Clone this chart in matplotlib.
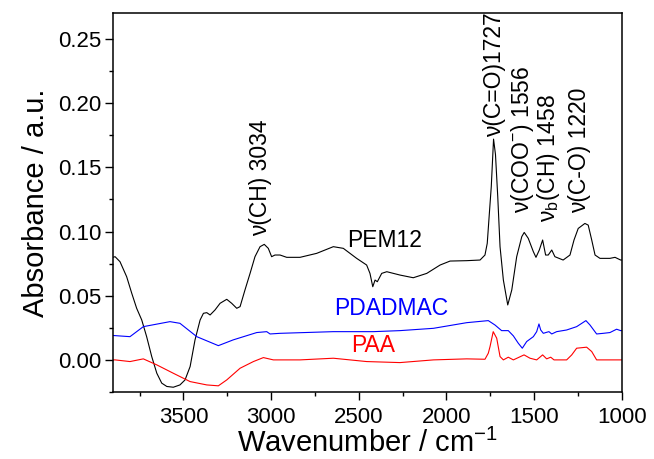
import numpy as np
import matplotlib
matplotlib.use("Agg")
import matplotlib.pyplot as plt
from matplotlib.ticker import MultipleLocator, FormatStrFormatter

plt.rcParams['font.family'] = ['Liberation Sans', 'DejaVu Sans']
plt.rcParams['mathtext.fontset'] = 'custom'
plt.rcParams['mathtext.rm'] = 'Liberation Sans'
plt.rcParams['mathtext.it'] = 'Liberation Sans:italic'

# spectra (wavenumber in cm-1, absorbance)
pem12_wn = [3900, 3890, 3862, 3824, 3795, 3767, 3738, 3710, 3681, 3652, 3624, 3595,
            3558, 3520, 3491, 3462, 3434, 3405, 3386, 3367, 3348, 3320, 3291, 3253,
            3225, 3196, 3177, 3149, 3120, 3092, 3063, 3039, 3016, 2997, 2978, 2949,
            2911, 2835, 2740, 2645, 2588, 2512, 2455, 2436, 2420, 2407, 2394, 2369,
            2340, 2265, 2189, 2112, 2036, 1979, 1884, 1808, 1780, 1767, 1755, 1744,
            1731, 1720, 1707, 1694, 1675, 1650, 1627, 1599, 1570, 1556, 1533, 1504,
            1489, 1470, 1451, 1434, 1419, 1399, 1381, 1334, 1295, 1272, 1248, 1210,
            1191, 1171, 1152, 1124, 1067, 1038, 1006, 1000]
pem12_abs = [0.080, 0.0804, 0.0765, 0.0648, 0.0519, 0.0402, 0.0311, 0.0181, 0.0026, -0.0104,
             -0.0181, -0.0207, -0.0213, -0.0195, -0.0156, -0.0052, 0.0156, 0.0311, 0.0363, 0.0368,
             0.035, 0.0389, 0.0441, 0.0472, 0.0441, 0.0402, 0.0415, 0.0545, 0.0674, 0.0804,
             0.0882, 0.090, 0.0869, 0.0804, 0.0817, 0.0817, 0.0799, 0.0799, 0.083, 0.0882,
             0.0869, 0.0791, 0.0739, 0.0674, 0.057, 0.0622, 0.0609, 0.0674, 0.0687, 0.0661,
             0.064, 0.0674, 0.0739, 0.077, 0.0773, 0.0778, 0.0817, 0.0908, 0.114, 0.135,
             0.172, 0.160, 0.127, 0.0882, 0.0622, 0.0428, 0.0545, 0.0804, 0.096, 0.0993,
             0.0947, 0.0843, 0.0799, 0.0856, 0.0934, 0.0817, 0.0817, 0.0856, 0.0804, 0.0778,
             0.0817, 0.0934, 0.1024, 0.1063, 0.105, 0.0934, 0.0817, 0.0791, 0.0791, 0.0799,
             0.0778, 0.0778]

pdadmac_wn = [3900, 3890, 3805, 3729, 3577, 3520, 3424, 3301, 3216, 3082, 3025, 3006,
              2949, 2645, 2417, 2265, 2074, 1884, 1761, 1723, 1685, 1647, 1618, 1590,
              1567, 1542, 1504, 1485, 1472, 1462, 1447, 1428, 1415, 1399, 1371, 1314,
              1257, 1204, 1181, 1143, 1105, 1067, 1029, 1006, 1000]
pdadmac_abs = [0.019, 0.0189, 0.0181, 0.0259, 0.0298, 0.0285, 0.0181, 0.0111, 0.0156, 0.0213,
               0.022, 0.0202, 0.0207, 0.022, 0.022, 0.0228, 0.0246, 0.029, 0.0306, 0.0272,
               0.0228, 0.0228, 0.0187, 0.013, 0.0091, 0.0143, 0.0181, 0.022, 0.028, 0.0233,
               0.0207, 0.0215, 0.022, 0.0202, 0.022, 0.0233, 0.0259, 0.0306, 0.0272, 0.0202,
               0.0207, 0.0213, 0.0239, 0.0228, 0.0228]

paa_wn = [3900, 3890, 3805, 3729, 3652, 3558, 3462, 3367, 3301, 3253, 3177, 3101,
          3044, 2987, 2835, 2645, 2455, 2265, 2074, 1884, 1780, 1761, 1751, 1733,
          1713, 1694, 1675, 1647, 1618, 1557, 1523, 1485, 1451, 1428, 1405, 1386,
          1314, 1285, 1257, 1200, 1171, 1143, 1086, 1006, 1000]
paa_abs = [0.0, 0.0, -0.0013, 0.0008, -0.0039, -0.0104, -0.0169, -0.0195, -0.0202, -0.0156,
           -0.0065, -0.0013, 0.0018, 0.0, 0.0, 0.0013, -0.0013, -0.0021, 0.0, 0.0008,
           0.0005, 0.0052, 0.0104, 0.022, 0.0169, 0.0026, 0.0, 0.0021, 0.0, 0.0039,
           0.0013, 0.0, 0.0039, 0.0008, 0.0021, 0.0, 0.0, 0.0039, 0.0091, 0.0099,
           0.0065, 0.0, 0.0, 0.0, 0.0]

# band assignments
band_labels = [r'ν(CH) 3034', r'ν(C=O)1727', r'ν(COO$^{-}$) 1556',
               r'ν$_{\mathrm{b}}$(CH) 1458', r'ν(C-O) 1220']
band_x = [3060, 1728, 1566, 1420, 1238]
band_y = [0.0965, 0.1735, 0.1143, 0.1076, 0.1143]

fig = plt.figure(figsize=(6.54, 4.59), dpi=100)
ax = fig.add_axes([0.1733, 0.146, 0.7773, 0.825])

ax.plot(pem12_wn, pem12_abs, color='black', lw=0.8)
ax.plot(pdadmac_wn, pdadmac_abs, color='#0000ff', lw=0.8)
ax.plot(paa_wn, paa_abs, color='#ff0000', lw=0.8)

ax.text(2353, 0.0882, 'PEM12', color='black', fontsize=16.5, ha='center', va='baseline')
ax.text(2317, 0.035, 'PDADMAC', color='#0000ff', fontsize=16.5, ha='center', va='baseline')
ax.text(2420, 0.0065, 'PAA', color='#ff0000', fontsize=16.5, ha='center', va='baseline')

for lab, x, y in zip(band_labels, band_x, band_y):
    ax.text(x, y, lab, rotation=90, fontsize=16.5, ha='center', va='bottom')

ax.set_xlim(3900, 1000)
ax.set_ylim(-0.025, 0.27)
ax.xaxis.set_major_locator(MultipleLocator(500))
ax.xaxis.set_minor_locator(MultipleLocator(250))
ax.yaxis.set_major_locator(MultipleLocator(0.05))
ax.yaxis.set_minor_locator(MultipleLocator(0.025))
ax.yaxis.set_major_formatter(FormatStrFormatter('%.2f'))
ax.tick_params(which='both', direction='out', top=False, right=False, labelsize=16, width=1.0)
ax.tick_params(axis='x', which='major', length=5.5, pad=5)
ax.tick_params(axis='y', which='major', length=5.5, pad=3)
ax.tick_params(which='minor', length=3)
for s in ax.spines.values():
    s.set_linewidth(1.1)

ax.set_xlabel('Wavenumber / cm$^{-1}$', fontsize=21, labelpad=1)
ax.set_ylabel('Absorbance / a.u.', fontsize=21, labelpad=6)

fig.savefig('out.png', dpi=100)
